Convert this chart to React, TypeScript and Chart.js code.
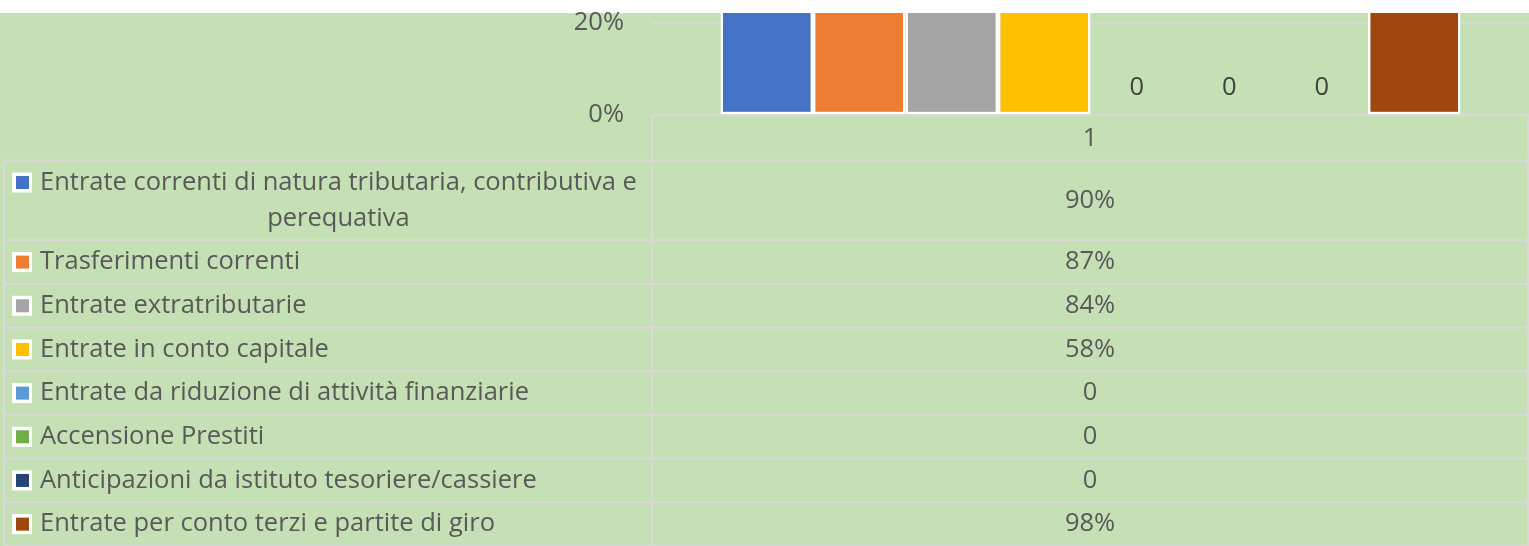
import { useEffect, useRef } from "react";
import { Chart, registerables } from "chart.js";

Chart.register(...registerables);

// ---- data ----
const categories = ["1"];
const seriesNames = [
  "Entrate correnti di natura tributaria, contributiva e perequativa",
  "Trasferimenti correnti",
  "Entrate extratributarie",
  "Entrate in conto capitale",
  "Entrate da riduzione di attività finanziarie",
  "Accensione Prestiti",
  "Anticipazioni da istituto tesoriere/cassiere",
  "Entrate per conto terzi e partite di giro",
];
const seriesValues = [0.9, 0.87, 0.84, 0.58, 0, 0, 0, 0.98];
const yTickStep = 0.2;
const yVisibleMax = 0.221;

// ---- styles ----
const seriesColors = [
  "#4472C4",
  "#ED7D31",
  "#A5A5A5",
  "#FFC000",
  "#5B9BD5",
  "#70AD47",
  "#264478",
  "#9E480E",
];
const FONT_FAMILY = "'Open Sans', sans-serif";
const FONT_SIZE = 25.5;
const FONT = `${FONT_SIZE}px ${FONT_FAMILY}`;
const TEXT_COLOR = "#595959";
const LABEL_COLOR = "#404040";
const BG = "#C5E0B4";
const LINE = "#D9D9D9";
const TOP_BAND = 13;
const W = 1529;
const H = 546;
const PLOT_LEFT = 652;
const PLOT_BOTTOM = 115;
const TABLE_LEFT = 4;
const TABLE_RIGHT = 1528;
const HEADER_H = 45.7;
const ROW_H = 43.67;
const LINE_H = 35.9;
const KEY_X = 12;
const TEXT_X = 40;
const WRAP_W = 625;

const fmtValue = (v: number) => (v === 0 ? "0" : Math.round(v * 100) + "%");

function wrapText(ctx: CanvasRenderingContext2D, text: string, maxW: number) {
  const words = text.split(" ");
  const lines: string[] = [];
  let cur = "";
  for (const w of words) {
    const test = cur ? cur + " " + w : w;
    if (ctx.measureText(test).width > maxW && cur) {
      lines.push(cur);
      cur = w;
    } else {
      cur = test;
    }
  }
  if (cur) lines.push(cur);
  return lines;
}

const bgPlugin = {
  id: "bgPlugin",
  beforeDraw(chart: any) {
    const ctx = chart.ctx as CanvasRenderingContext2D;
    ctx.save();
    ctx.fillStyle = "#FFFFFF";
    ctx.fillRect(0, 0, chart.width, chart.height);
    ctx.fillStyle = BG;
    ctx.fillRect(0, TOP_BAND, chart.width, chart.height - TOP_BAND);
    ctx.restore();
  },
};

const labelPlugin = {
  id: "labelPlugin",
  afterDatasetsDraw(chart: any) {
    const ctx = chart.ctx as CanvasRenderingContext2D;
    ctx.save();
    ctx.font = FONT;
    ctx.fillStyle = LABEL_COLOR;
    ctx.textAlign = "center";
    ctx.textBaseline = "middle";
    chart.data.datasets.forEach((ds: any, i: number) => {
      const meta = chart.getDatasetMeta(i);
      meta.data.forEach((el: any, j: number) => {
        const v = ds.data[j] as number;
        ctx.fillText(fmtValue(v), el.x, el.y - 27);
      });
    });
    ctx.restore();
  },
};

const tablePlugin = {
  id: "tablePlugin",
  afterDraw(chart: any) {
    const ctx = chart.ctx as CanvasRenderingContext2D;
    const area = chart.chartArea;
    const mid = area.left;
    const hline = (x1: number, x2: number, y: number) => {
      ctx.fillStyle = LINE;
      ctx.fillRect(x1, y - 1, x2 - x1, 2);
    };
    const vline = (x: number, y1: number, y2: number) => {
      ctx.fillStyle = LINE;
      ctx.fillRect(x - 1, y1, 2, y2 - y1);
    };
    ctx.save();
    ctx.font = FONT;
    ctx.textBaseline = "middle";
    const y0 = area.bottom;
    // header row (category labels)
    hline(mid, TABLE_RIGHT, y0);
    ctx.fillStyle = TEXT_COLOR;
    ctx.textAlign = "center";
    const colW = (TABLE_RIGHT - mid) / chart.data.labels.length;
    chart.data.labels.forEach((lab: string, j: number) => {
      ctx.fillText(String(lab), mid + colW * (j + 0.5), y0 + HEADER_H / 2 + 1);
    });
    const y1 = y0 + HEADER_H;
    let y = y1;
    chart.data.datasets.forEach((ds: any) => {
      const lines = wrapText(ctx, ds.label, WRAP_W);
      const h = ROW_H + (lines.length - 1) * LINE_H;
      hline(TABLE_LEFT, TABLE_RIGHT, y);
      const c0 = y + ROW_H / 2;
      // legend key
      ctx.fillStyle = "#FFFFFF";
      ctx.fillRect(KEY_X, c0 - 10, 20, 20);
      ctx.fillStyle = ds.backgroundColor;
      ctx.fillRect(KEY_X + 4, c0 - 6.5, 13, 13);
      // name
      ctx.fillStyle = TEXT_COLOR;
      if (lines.length === 1) {
        ctx.textAlign = "left";
        ctx.fillText(lines[0], TEXT_X, c0);
      } else {
        const blockW = Math.max(...lines.map((ln) => ctx.measureText(ln).width));
        ctx.textAlign = "center";
        lines.forEach((ln, k) => {
          ctx.fillText(ln, TEXT_X + blockW / 2, c0 + k * LINE_H);
        });
      }
      // values
      ctx.textAlign = "center";
      ds.data.forEach((v: number, j: number) => {
        ctx.fillText(fmtValue(v), mid + colW * (j + 0.5), y + h / 2);
      });
      y += h;
    });
    hline(TABLE_LEFT, TABLE_RIGHT, y);
    vline(TABLE_LEFT, y1, y);
    vline(mid, y0, y);
    vline(TABLE_RIGHT, y0, y);
    ctx.restore();
  },
};

export default function App() {
  const ref = useRef<HTMLCanvasElement>(null);
  useEffect(() => {
    let chart: Chart | null = null;
    let cancelled = false;
    const make = () => {
      if (cancelled || !ref.current) return;
      const slot = 740;
      const plotW = W - PLOT_LEFT;
      chart = new Chart(ref.current, {
        type: "bar",
        data: {
          labels: categories,
          datasets: seriesNames.map((name, i) => ({
            label: name,
            data: [seriesValues[i]],
            backgroundColor: seriesColors[i],
            borderColor: "#FFFFFF",
            borderWidth: 2.5,
            borderSkipped: false,
            categoryPercentage: slot / plotW,
            barPercentage: 1,
          })),
        },
        options: {
          responsive: false,
          animation: false,
          layout: { padding: { top: TOP_BAND, bottom: H - PLOT_BOTTOM, left: 0, right: 0 } },
          plugins: {
            legend: { display: false },
            tooltip: { enabled: false },
          },
          scales: {
            x: { display: false },
            y: {
              min: 0,
              max: yVisibleMax,
              afterFit: (scale: any) => {
                scale.width = PLOT_LEFT;
                scale.paddingTop = 0;
                scale.paddingBottom = 0;
              },
              ticks: {
                stepSize: yTickStep,
                includeBounds: false,
                padding: 28,
                color: TEXT_COLOR,
                font: { family: FONT_FAMILY, size: FONT_SIZE },
                callback: (v: any) => Math.round(Number(v) * 100) + "%",
              },
              grid: {
                color: LINE,
                lineWidth: 1.75,
                drawTicks: false,
              },
              border: { display: false },
            },
          },
        },
        plugins: [bgPlugin, labelPlugin, tablePlugin],
      });
    };
    const fonts = (document as any).fonts;
    if (fonts && fonts.load) {
      fonts.load(FONT).then(make, make);
    } else {
      make();
    }
    return () => {
      cancelled = true;
      if (chart) chart.destroy();
    };
  }, []);
  return (
    <div style={{ position: "fixed", left: 0, top: 0, width: W, height: H }}>
      <canvas ref={ref} width={W} height={H} style={{ display: "block", width: W, height: H }} />
    </div>
  );
}
